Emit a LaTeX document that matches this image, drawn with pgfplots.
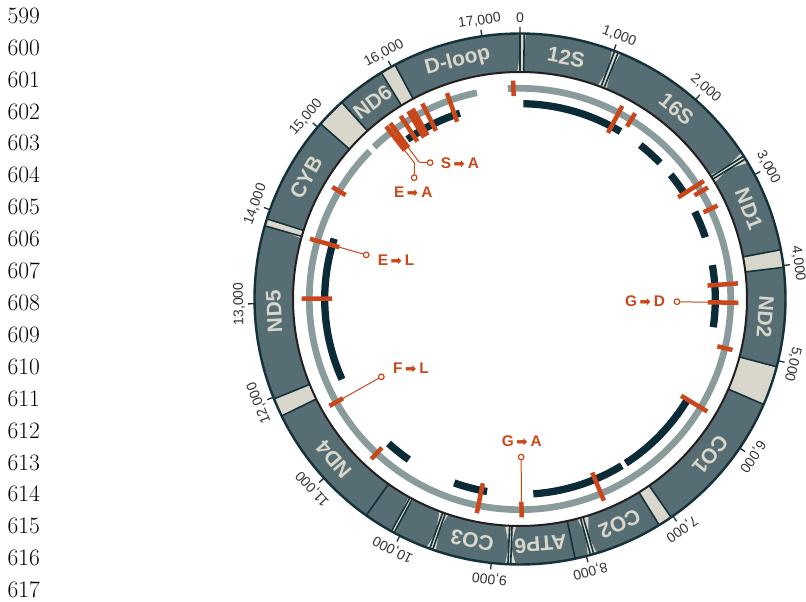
\documentclass[border=0pt]{standalone}
\usepackage{pgfplots}
\pgfplotsset{compat=1.18}
\usepgfplotslibrary{polar}
\usepackage{fontspec}
\newfontfamily\labfont{Liberation Sans}
\newfontfamily\arrowfont{DejaVu Sans}

\definecolor{band}{HTML}{566D74}
\definecolor{edge}{HTML}{15313A}
\definecolor{innerline}{HTML}{231F20}
\definecolor{beige}{HTML}{D9D7CB}
\definecolor{ring}{HTML}{8A9B9C}
\definecolor{track}{HTML}{0B2C37}
\definecolor{mut}{HTML}{C9471B}
\definecolor{ticktext}{HTML}{333333}

% mutation label: from -> to
\newcommand\mut[2]{#1\hspace{2.5pt}{\arrowfont\fontsize{13.5}{13.5}\selectfont\symbol{"27A1}}\hspace{3pt}#2}

\begin{document}
\begin{tikzpicture}
\useasboundingbox (0,0) rectangle (806pt,602pt);

% line numbers of the page
\foreach \i in {0,...,18}{
  \pgfmathtruncatemacro\n{599+\i}
  \node[anchor=base west, inner sep=0pt, font=\fontsize{23.5}{28}\selectfont]
    at (7.3pt,{(578.7-31.91*\i)*1pt}) {\n};
}

\begin{polaraxis}[
    at={(520pt,303pt)}, anchor=center,
    width=532pt, height=532pt, scale only axis,
    xmin=0, xmax=360, ymin=0, ymax=266,
    hide axis, clip=false,
    % genome position (0..17400 bp) -> angle, clockwise from the top
    x filter/.expression={90-x/48.33333},
    unbounded coords=jump,
    samples=120,
    seg/.style={line width=38pt, draw=#1},
]

% ---- gene band ----
\addplot[seg=band, domain=0:17400, samples=300] {246.5};
% tRNA / spacer blocks
\addplot[seg=beige, domain=0:45] {246.5};
\addplot[seg=beige, domain=1010:1050] {246.5};
\addplot[seg=beige, domain=2775:2810] {246.5};
\addplot[seg=beige, domain=3833:4019] {246.5};
\addplot[seg=beige, domain=5065:5481] {246.5};
\addplot[seg=beige, domain=7023:7172] {246.5};
\addplot[seg=beige, domain=7920:7955] {246.5};
\addplot[seg=beige, domain=8797:8826] {246.5};
\addplot[seg=beige, domain=9628:9661] {246.5};
\addplot[seg=beige, domain=10068:10101] {246.5};
\addplot[seg=beige, domain=11786:11982] {246.5};
\addplot[seg=beige, domain=13823:13900] {246.5};
\addplot[seg=beige, domain=15046:15360] {246.5};
\addplot[seg=beige, domain=15877:16042] {246.5};

% segment boundaries
\addplot[draw=edge, line width=1.6pt] coordinates {
(0,227)(0,265) (nan,nan) (45,227)(45,265) (nan,nan)
(1010,227)(1010,265) (nan,nan) (1050,227)(1050,265) (nan,nan)
(2775,227)(2775,265) (nan,nan) (2810,227)(2810,265) (nan,nan)
(3833,227)(3833,265) (nan,nan) (4019,227)(4019,265) (nan,nan)
(5065,227)(5065,265) (nan,nan) (5481,227)(5481,265) (nan,nan)
(7023,227)(7023,265) (nan,nan) (7172,227)(7172,265) (nan,nan)
(7920,227)(7920,265) (nan,nan) (7955,227)(7955,265) (nan,nan)
(8120,227)(8120,265) (nan,nan)
(8797,227)(8797,265) (nan,nan) (8826,227)(8826,265) (nan,nan)
(9628,227)(9628,265) (nan,nan) (9661,227)(9661,265) (nan,nan)
(10068,227)(10068,265) (nan,nan) (10101,227)(10101,265) (nan,nan)
(10411,227)(10411,265) (nan,nan)
(11786,227)(11786,265) (nan,nan) (11982,227)(11982,265) (nan,nan)
(13823,227)(13823,265) (nan,nan) (13900,227)(13900,265) (nan,nan)
(15046,227)(15046,265) (nan,nan) (15360,227)(15360,265) (nan,nan)
(15877,227)(15877,265) (nan,nan) (16042,227)(16042,265)
};

% borders of the band
\addplot[draw=edge, line width=2.4pt, domain=0:17400, samples=300] {265.5};
\addplot[draw=innerline, line width=2pt, domain=0:17400, samples=300] {227};

% scale ticks
\addplot[draw=edge, line width=1.3pt] coordinates {
(0,266)(0,272) (nan,nan) (1000,266)(1000,272) (nan,nan)
(2000,266)(2000,272) (nan,nan) (3000,266)(3000,272) (nan,nan)
(4000,266)(4000,272) (nan,nan) (5000,266)(5000,272) (nan,nan)
(6000,266)(6000,272) (nan,nan) (7000,266)(7000,272) (nan,nan)
(8000,266)(8000,272) (nan,nan) (9000,266)(9000,272) (nan,nan)
(10000,266)(10000,272) (nan,nan) (11000,266)(11000,272) (nan,nan)
(12000,266)(12000,272) (nan,nan) (13000,266)(13000,272) (nan,nan)
(14000,266)(14000,272) (nan,nan) (15000,266)(15000,272) (nan,nan)
(16000,266)(16000,272) (nan,nan) (17000,266)(17000,272)
};

% scale labels (rot = tangential rotation in degrees)
\addplot[only marks, mark=none, nodes near coords, point meta=explicit symbolic,
    visualization depends on={value \thisrow{rot} \as \rot},
    every node near coord/.append style={anchor=center, inner sep=0pt,
      rotate=\rot, text=ticktext,
      font=\labfont\fontsize{14}{14}\selectfont}]
table[x=pos, y=r, meta=lab] {
pos r rot lab
0 281 0 0
1000 281 -20.69 1,000
2000 281 -41.38 2,000
3000 281 -62.07 3,000
4000 280.5 -82.76 4,000
5000 280.5 -103.45 5,000
6000 281 -124.14 6,000
7000 281 -144.83 7,000
8000 281 -165.52 8,000
9000 281 -186.21 9,000
10000 281 -206.90 10,000
11000 281 -227.59 11,000
12000 281 -248.28 12,000
13000 281 -268.97 13,000
14000 281 -289.66 14,000
15000 281 -310.34 15,000
16000 281 -331.03 16,000
17000 281 -351.72 17,000
};

% gene names
\addplot[only marks, mark=none, nodes near coords, point meta=explicit symbolic,
    visualization depends on={value \thisrow{rot} \as \rot},
    every node near coord/.append style={anchor=center, inner sep=0pt,
      rotate=\rot, text=beige,
      font=\labfont\bfseries\fontsize{21}{21}\selectfont}]
table[x=pos, y=r, meta=lab] {
pos r rot lab
522 246 -10.8 12S
1909 246 -39.5 16S
3311 246 -68.5 ND1
4553 246 -94.2 ND2
6250 246 -129.3 CO1
7545 246 -156.1 CO2
8468 246 -175.2 ATP6
9241 246 -191.2 CO3
11078 246 -229.2 ND4
12910 246 -267.1 ND5
14481 246 -299.6 CYB
15621 246 -323.2 ND6
16690 246 -345.3 D-loop
};

% ---- coverage ring ----
\addplot[draw=ring, line width=6.7pt, domain=0:15201, samples=300] {210.7};
\addplot[draw=ring, line width=6.7pt, domain=15283:16829] {210.7};
\addplot[draw=ring, line width=6.7pt, domain=17240:17400] {210.7};

% ---- inner track ----
\addplot[draw=track, line width=7.3pt, domain=48:1498] {195.3};
\addplot[draw=track, line width=7.3pt, domain=1837:2214] {195.3};
\addplot[draw=track, line width=7.3pt, domain=2441:2779] {195.3};
\addplot[draw=track, line width=7.3pt, domain=3069:3461] {195.3};
\addplot[draw=track, line width=7.3pt, domain=3867:4751] {195.3};
\addplot[draw=track, line width=7.3pt, domain=5858:7115] {195.3};
\addplot[draw=track, line width=7.3pt, domain=7182:8511] {195.3};
\addplot[draw=track, line width=7.3pt, domain=9169:9652] {195.3};
\addplot[draw=track, line width=7.3pt, domain=10377:10745] {195.3};
\addplot[draw=track, line width=7.3pt, domain=11876:13920] {195.3};
\addplot[draw=track, line width=7.3pt, domain=15699:16535] {195.3};

% ---- variant sites ----
\addplot[draw=mut, line width=4.5pt] coordinates {
(17313,203)(17313,218.5) (nan,nan)
(1349,188)(1349,218.5) (nan,nan)
(1537,203)(1537,218.5) (nan,nan)
(2769,188)(2769,218.5) (nan,nan)
(2866,203)(2866,218.5) (nan,nan)
(3127,203)(3127,218.5) (nan,nan)
(4152,188)(4152,218.5) (nan,nan)
(4398,188)(4398,218.5) (nan,nan)
(5002,203)(5002,218.5) (nan,nan)
(5848,188)(5848,218.5) (nan,nan)
(7608,188)(7608,218.5) (nan,nan)
(8680,203)(8680,218.5) (nan,nan)
(9251,188)(9251,218.5) (nan,nan)
(10773,203)(10773,218.5) (nan,nan)
(11634,203)(11634,218.5) (nan,nan)
(13055,188)(13055,218.5) (nan,nan)
(13823,188)(13823,218.5) (nan,nan)
(14539,203)(14539,218.5) (nan,nan)
(15573,188)(15573,218.5) (nan,nan)
(15640,188)(15640,218.5) (nan,nan)
(15800,188)(15800,218.5) (nan,nan)
(15915,188)(15915,218.5) (nan,nan)
(15977,188)(15977,218.5) (nan,nan)
(16117,188)(16117,218.5) (nan,nan)
(16457,188)(16457,218.5)
};

% leaders
\addplot[draw=mut, line width=1pt] coordinates {
(4398,190)(4398,157) (nan,nan)
(8680,203)(8680,158) (nan,nan)
(11634,203)(11634,159) (nan,nan)
(13823,190)(13823,160) (nan,nan)
(15640,190)(15640,170)(15786,163.3) (nan,nan)
(15573,190)(15573,172)(15413,161)
};
\addplot[only marks, mark=*, mark size=2.8pt,
    mark options={draw=mut, fill=white, line width=1.2pt}] coordinates {
(4398,157) (8680,158) (11634,159) (13823,160) (15786,163.3) (15413,161)
};

% substitution labels
\addplot[only marks, mark=none, nodes near coords, point meta=explicit symbolic,
    every node near coord/.append style={anchor=center, inner sep=0pt, text=mut,
      font=\labfont\bfseries\fontsize{15.4}{15.4}\selectfont}]
coordinates {
(4393,125) [\mut{G}{D}]
(8666,142.7) [\mut{G}{A}]
(11488,129) [\mut{F}{L}]
(13896,130) [\mut{E}{L}]
(16248,148.6) [\mut{S}{A}]
(15225,150.9) [\mut{E}{A}]
};

\end{polaraxis}
\end{tikzpicture}
\end{document}
